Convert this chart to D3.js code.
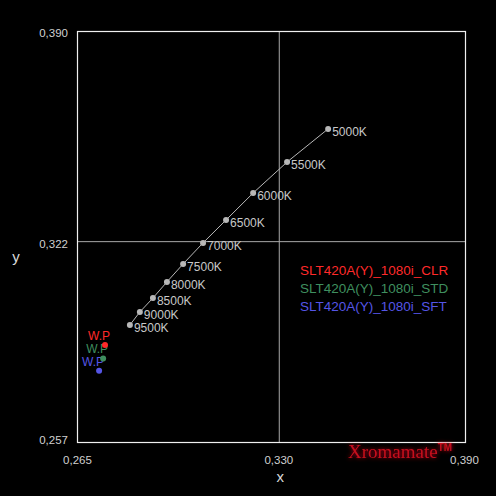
<!DOCTYPE html>
<html><head><meta charset="utf-8">
<script src="https://cdn.jsdelivr.net/npm/d3@7"></script>
<style>html,body{margin:0;padding:0;background:#000;}svg{display:block;}</style>
</head><body>
<script>
// ---- data ----
const temps = ["5000K","5500K","6000K","6500K","7000K","7500K","8000K","8500K","9000K","9500K"];
const tempX = [0.3457,0.3325,0.3216,0.3129,0.3055,0.2991,0.2939,0.2894,0.2852,0.2820];
const tempY = [0.3584,0.3477,0.3377,0.3290,0.3216,0.3148,0.3090,0.3038,0.2993,0.2951];
const series = ["SLT420A(Y)_1080i_CLR","SLT420A(Y)_1080i_STD","SLT420A(Y)_1080i_SFT"];
const seriesColors = ["#ff2a2a","#3f8f5f","#5555e6"];
const wpX = [0.2740,0.2734,0.2721];
const wpY = [0.2886,0.2843,0.2803];
const xTicks = [0.265,0.330,0.390];
const yTicks = [0.257,0.322,0.390];
const xDomain = [0.265,0.390];
const yDomain = [0.257,0.390];

const W = 496, H = 496;
const L = 77, R = 466, T = 31, B = 443;
const svg = d3.select("body").append("svg").attr("width",W).attr("height",H)
  .style("background","#000");

const x = d3.scaleLinear().domain(xDomain).range([L,R]);
const y = d3.scaleLinear().domain(yDomain).range([B,T]);
const fmt = d => d3.format(".3f")(d).replace(".",",");
const tickFont = "Liberation Sans, Arial, sans-serif";

// crosshair at middle ticks
svg.append("line").attr("x1",x(xTicks[1])).attr("x2",x(xTicks[1])).attr("y1",T).attr("y2",B)
  .attr("stroke","#a8a8a8").attr("stroke-width",1);
svg.append("line").attr("x1",L).attr("x2",R).attr("y1",y(yTicks[1])).attr("y2",y(yTicks[1]))
  .attr("stroke","#a8a8a8").attr("stroke-width",1);

// frame
svg.append("rect").attr("x",L+0.5).attr("y",T+0.5).attr("width",R-L-1).attr("height",B-T-1)
  .attr("fill","none").attr("stroke","#f0f0f0").attr("stroke-width",1.2);

// axes
const gy = svg.append("g").attr("transform",`translate(${L-9},0)`)
  .call(d3.axisLeft(y).tickValues(yTicks).tickFormat(fmt).tickSize(0).tickPadding(0));
gy.select(".domain").remove();
gy.selectAll("text").attr("fill","#d0d0d0").style("font-family",tickFont).style("font-size","11.5px")
  .attr("dy", (d,i) => i===0 ? "-0.0em" : "0.5em");
const gx = svg.append("g").attr("transform",`translate(0,${B+13})`)
  .call(d3.axisBottom(x).tickValues(xTicks).tickFormat(fmt).tickSize(0).tickPadding(0));
gx.select(".domain").remove();
gx.selectAll("text").attr("fill","#d0d0d0").style("font-family",tickFont).style("font-size","11.5px")
  .attr("dx",(d,i)=> i===1 ? "-1px" : (i===2 ? "-2px" : "0"));

// axis titles
svg.append("text").attr("x",x(xTicks[1])+1).attr("y",482).attr("text-anchor","middle")
  .attr("fill","#d8d8d8").style("font-family",tickFont).style("font-size","15px").text("x");
svg.append("text").attr("x",16).attr("y",262).attr("text-anchor","middle")
  .attr("fill","#d8d8d8").style("font-family",tickFont).style("font-size","15px").text("y");

// temperature locus
const pts = temps.map((t,i)=>({t, x:tempX[i], y:tempY[i]}));
svg.append("path").datum(pts)
  .attr("d", d3.line().x(d=>x(d.x)).y(d=>y(d.y)))
  .attr("fill","none").attr("stroke","#b8b8b8").attr("stroke-width",1);
svg.selectAll("circle.t").data(pts).join("circle").attr("class","t")
  .attr("cx",d=>x(d.x)).attr("cy",d=>y(d.y)).attr("r",3).attr("fill","#b8b8b8");
svg.selectAll("text.t").data(pts).join("text").attr("class","t")
  .attr("x",d=>x(d.x)+4).attr("y",d=>y(d.y)+7)
  .attr("fill","#c8c8c8").style("font-family",tickFont).style("font-size","12px")
  .text(d=>d.t);

// white points
const wps = series.map((s,i)=>({s, c:seriesColors[i], x:wpX[i], y:wpY[i]}));
svg.selectAll("text.wp").data(wps).join("text").attr("class","wp")
  .attr("x",d=>x(d.x)+5).attr("y",d=>y(d.y)-5).attr("text-anchor","end")
  .attr("fill",d=>d.c).style("font-family",tickFont).style("font-size","12px").text("W.P");
svg.selectAll("circle.wp").data(wps).join("circle").attr("class","wp")
  .attr("cx",d=>x(d.x)).attr("cy",d=>y(d.y)).attr("r",3).attr("fill",d=>d.c);

// legend
svg.selectAll("text.lg").data(wps).join("text").attr("class","lg")
  .attr("x",300).attr("y",(d,i)=>275+i*18)
  .attr("fill",d=>d.c).style("font-family",tickFont).style("font-size","13.5px").text(d=>d.s);

// brand
const defs = svg.append("defs");
const f = defs.append("filter").attr("id","glow").attr("x","-20%").attr("y","-50%").attr("width","140%").attr("height","200%");
f.append("feGaussianBlur").attr("in","SourceGraphic").attr("stdDeviation",2).attr("result","b");
const fm = f.append("feMerge");
fm.append("feMergeNode").attr("in","b");
fm.append("feMergeNode").attr("in","SourceGraphic");
const brand = svg.append("text").attr("x",348).attr("y",458).attr("filter","url(#glow)")
  .attr("fill","#c8101c").style("font-family","Liberation Serif, Times New Roman, serif").style("font-size","19px");
brand.append("tspan").text("Xromamate");
brand.append("tspan").attr("dy",-7).style("font-size","10px").style("font-family","Liberation Sans, Arial, sans-serif").style("font-weight","bold").text("TM");
</script>
</body></html>
